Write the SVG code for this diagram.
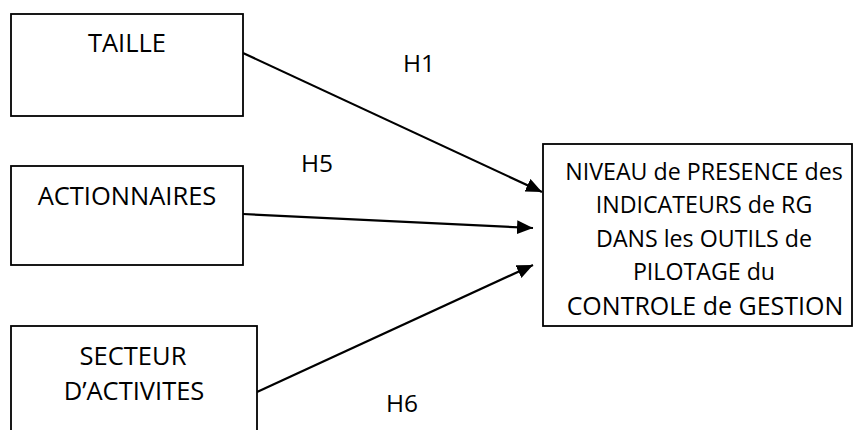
<svg xmlns="http://www.w3.org/2000/svg" width="854" height="430" viewBox="0 0 854 430">
<style>
.box{fill:#fff;stroke:#000;stroke-width:1.8}
.lbl{font-family:"Open Sans","Liberation Sans",sans-serif;font-size:25.5px;fill:#000;text-anchor:middle}
.sm{font-size:23.2px}
.big{font-size:25px}
.h{font-family:"Open Sans","Liberation Sans",sans-serif;font-size:24.5px;fill:#000}
.edge{stroke:#000;stroke-width:2.2;fill:none;marker-end:url(#ah)}
</style>
<defs>
<marker id="ah" markerUnits="userSpaceOnUse" markerWidth="18" markerHeight="16" refX="16" refY="7" orient="auto">
<path d="M0,0 L16,7 L0,14 Z" fill="#000"/>
</marker>
</defs>
<rect width="854" height="430" fill="#fff"/>
<g id="connectors">
<line class="edge" x1="243" y1="53" x2="542" y2="192"/>
<line class="edge" x1="243" y1="214" x2="533" y2="228"/>
<line class="edge" x1="257" y1="392" x2="533" y2="265"/>
</g>
<g id="taille">
<rect class="box" x="11" y="14" width="232" height="102"/>
<text class="lbl" x="127" y="52">TAILLE</text>
</g>
<g id="actionnaires">
<rect class="box" x="11" y="166" width="232" height="99"/>
<text class="lbl" x="127" y="205">ACTIONNAIRES</text>
</g>
<g id="secteur">
<rect class="box" x="11" y="326" width="246" height="120"/>
<text class="lbl" x="133" y="365">SECTEUR</text>
<text class="lbl" x="134" y="400">D’ACTIVITES</text>
</g>
<g id="niveau">
<rect class="box" x="543" y="144" width="309" height="182"/>
<text class="lbl sm" x="704" y="180">NIVEAU de PRESENCE des</text>
<text class="lbl sm" x="704" y="213">INDICATEURS de RG</text>
<text class="lbl sm" x="704" y="247">DANS les OUTILS de</text>
<text class="lbl sm" x="704" y="280">PILOTAGE du</text>
<text class="lbl big" x="705" y="315">CONTROLE de GESTION</text>
</g>
<g id="labels">
<text class="h" x="403" y="72">H1</text>
<text class="h" x="301" y="172">H5</text>
<text class="h" x="386" y="412">H6</text>
</g>
</svg>
